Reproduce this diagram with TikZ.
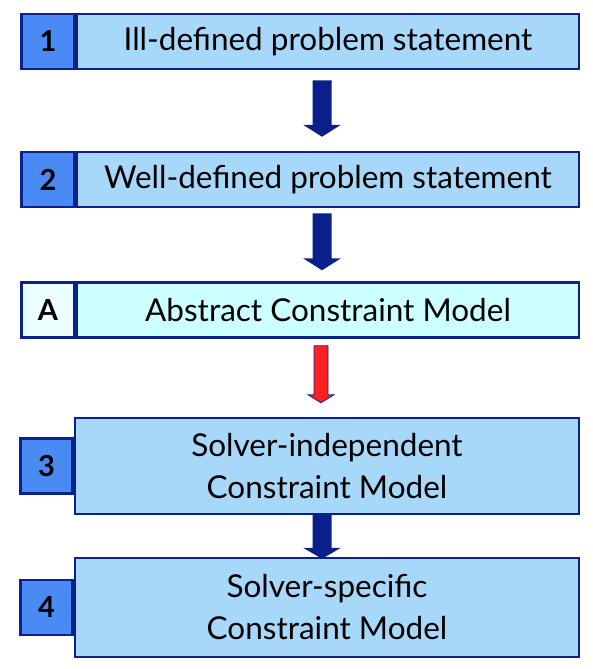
\documentclass[tikz,border=0pt]{standalone}
\usepackage{fontspec}
\setmainfont{Lato}
\usetikzlibrary{positioning,calc}

\definecolor{boxfill}{HTML}{A7D7F9}
\definecolor{numfill}{HTML}{4A8AF4}
\definecolor{edgeblue}{HTML}{0A228C}
\definecolor{abstractfill}{HTML}{CCFFFF}
\definecolor{arrowblue}{HTML}{0B1F8A}
\definecolor{arrowred}{HTML}{FF2020}

% block arrow: style, top point, tip point, half shaft, half head, head length
\newcommand\blockarrow[6]{%
	\path[#1] let \p1=(#2), \p2=(#3) in
		(\x1-#4,\y1) -- (\x1+#4,\y1) -- (\x1+#4,\y2+#6) -- (\x1+#5,\y2+#6)
		-- (\x1,\y2) -- (\x1-#5,\y2+#6) -- (\x1-#4,\y2+#6) -- cycle;}

\tikzset{
	mainbox/.style={draw=edgeblue, line width=2.5pt, fill=boxfill, minimum width=502pt,
		minimum height=55pt, inner sep=0pt, align=center, font=\fontsize{31.5}{42}\selectfont},
	numbox/.style={draw=edgeblue, line width=2.5pt, fill=numfill, minimum width=53pt,
		minimum height=55pt, inner sep=0pt, font=\fontsize{29}{30}\selectfont\bfseries},
	bluearrow/.style={fill=arrowblue},
	redarrow/.style={fill=arrowred, draw=edgeblue, line width=0.8pt},
}

\begin{document}
\begin{tikzpicture}[x=1pt,y=-1pt]
	\useasboundingbox (0,0) rectangle (593,669);
	\node[mainbox] (ill) at (328,41.5) {Ill-defined problem statement};
	\node[numbox, left=0pt of ill] (n1) {1};
	\node[mainbox] (well) at (328,179.5) {Well-defined problem statement};
	\node[numbox, left=0pt of well] (n2) {2};
	\node[mainbox, fill=abstractfill] (abstract) at (328,310) {Abstract Constraint Model};
	\node[numbox, fill=abstractfill!40, left=0pt of abstract] (na) {A};
	\node[mainbox, minimum width=504pt, minimum height=96pt] (indep) at (327,466) {Solver-independent\\Constraint Model};
	\node[numbox, minimum width=52pt, left=0pt of indep] (n3) {3};
	\node[mainbox, minimum width=504pt, minimum height=99pt] (spec) at (327,607.5) {Solver-specific\\Constraint Model};
	\node[numbox, minimum width=52pt, left=0pt of spec] (n4) {4};
	%arrows
	\blockarrow{bluearrow}{[xshift=-6pt,yshift=-10pt]ill.south}{[xshift=-6pt,yshift=14pt]well.north}{9.5pt}{19pt}{12pt}
	\blockarrow{bluearrow}{[xshift=-6pt,yshift=-5pt]well.south}{[xshift=-6pt,yshift=11pt]abstract.north}{9.5pt}{19pt}{12pt}
	\blockarrow{redarrow}{[xshift=-7pt,yshift=-7pt]abstract.south}{[xshift=-7pt,yshift=14pt]indep.north}{7pt}{13pt}{8pt}
	\blockarrow{bluearrow}{[xshift=-5pt,yshift=1pt]indep.south}{[xshift=-5pt,yshift=-2pt]spec.north}{9.5pt}{19pt}{11pt}
\end{tikzpicture}
\end{document}
